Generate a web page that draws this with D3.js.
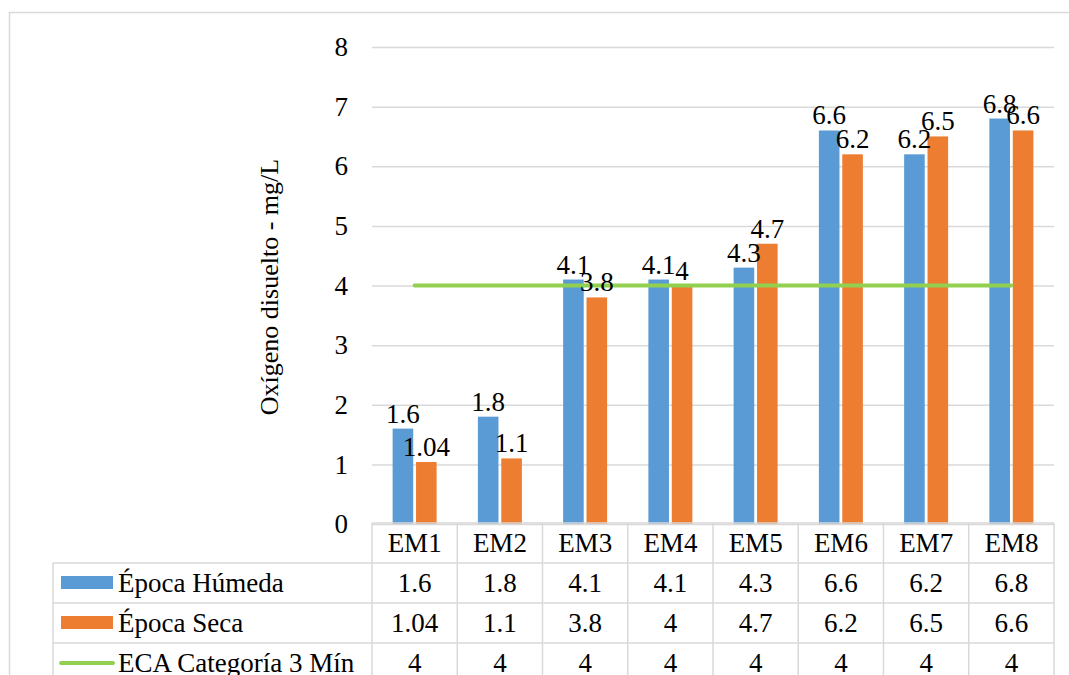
<!DOCTYPE html>
<meta charset="utf-8">
<script src="https://d3js.org/d3.v7.min.js"></script>
<style>
  body { margin: 0; background: #fff; }
  text { font-family: "Liberation Serif", "Times New Roman", serif; fill: #000; }
</style>
<div id="my_dataviz"></div>
<script>
// data
var categories = ["EM1", "EM2", "EM3", "EM4", "EM5", "EM6", "EM7", "EM8"];
var humeda = [1.6, 1.8, 4.1, 4.1, 4.3, 6.6, 6.2, 6.8];
var seca = [1.04, 1.1, 3.8, 4, 4.7, 6.2, 6.5, 6.6];
var eca = [4, 4, 4, 4, 4, 4, 4, 4];
var seriesNames = ["Época Húmeda", "Época Seca", "ECA Categoría 3 Mín"];
var yTicks = [0, 1, 2, 3, 4, 5, 6, 7, 8];

var W = 1069, H = 675;
var plot = {left: 372, right: 1054, top: 47, bottom: 524};
var rowH = 40;
var colors = {humeda: "#5B9BD5", seca: "#ED7D31", eca: "#92D050"};
var gridColor = "#d9d9d9";
var fontSize = "27px";

var svg = d3.select("#my_dataviz")
  .append("svg")
    .attr("width", W)
    .attr("height", H);

// outer chart border
svg.append("rect")
  .attr("x", 9.5).attr("y", 12.5)
  .attr("width", 1070).attr("height", 700)
  .attr("fill", "none")
  .attr("stroke", gridColor)
  .attr("stroke-width", 1.5);

// scales
var x = d3.scaleBand()
  .domain(categories)
  .range([plot.left, plot.right]);

var x1 = d3.scaleBand()
  .domain([0, 1])
  .range([0, 44])
  .paddingInner(0.12);

var y = d3.scaleLinear()
  .domain([0, 8])
  .range([plot.bottom, plot.top]);

// gridlines + y tick labels
var yAxis = svg.append("g")
  .attr("transform", "translate(" + plot.left + ",0)")
  .call(d3.axisLeft(y).tickValues(yTicks).tickSize(-(plot.right - plot.left)).tickPadding(24).tickFormat(d3.format("d")));
yAxis.select(".domain").remove();
yAxis.selectAll(".tick line").attr("stroke", gridColor).attr("stroke-width", 1.5);
yAxis.selectAll(".tick text")
  .style("font-family", "Liberation Serif, serif")
  .style("font-size", fontSize)
  .attr("fill", "#000");

// y axis title
svg.append("text")
  .attr("transform", "translate(278,287) rotate(-90)")
  .attr("text-anchor", "middle")
  .style("font-size", "26px")
  .text("Oxígeno disuelto - mg/L");

// bars
var groups = [humeda, seca];
var groupColors = [colors.humeda, colors.seca];
var off = (x.bandwidth() - 44) / 2;

groups.forEach(function(vals, s) {
  svg.append("g").selectAll("rect")
    .data(vals)
    .enter()
    .append("rect")
      .attr("x", function(d, i) { return x(categories[i]) + off + x1(s); })
      .attr("y", function(d) { return y(d); })
      .attr("width", x1.bandwidth())
      .attr("height", function(d) { return y(0) - y(d); })
      .attr("fill", groupColors[s]);
});

// ECA line
var line = d3.line()
  .x(function(d, i) { return x(categories[i]) + x.bandwidth() / 2; })
  .y(function(d) { return y(d); });
svg.append("path")
  .datum(eca)
  .attr("d", line)
  .attr("fill", "none")
  .attr("stroke", colors.eca)
  .attr("stroke-width", 4)
  .attr("stroke-linecap", "round");

// data labels
groups.forEach(function(vals, s) {
  svg.append("g").selectAll("text")
    .data(vals)
    .enter()
    .append("text")
      .attr("x", function(d, i) { return x(categories[i]) + off + x1(s) + x1.bandwidth() / 2; })
      .attr("y", function(d) { return y(d) - 6; })
      .attr("text-anchor", "middle")
      .style("font-size", fontSize)
      .text(function(d) { return d; });
});

// data table
var table = svg.append("g");
var tTop = 523;
var legendLeft = 53;
var rows = [humeda, seca, eca];

// horizontal lines
table.append("line")
  .attr("x1", plot.left).attr("x2", plot.right)
  .attr("y1", tTop).attr("y2", tTop);
for (var r = 1; r <= 4; r++) {
  table.append("line")
    .attr("x1", legendLeft).attr("x2", plot.right)
    .attr("y1", tTop + r * rowH).attr("y2", tTop + r * rowH);
}
// vertical lines
table.append("line")
  .attr("x1", legendLeft).attr("x2", legendLeft)
  .attr("y1", tTop + rowH).attr("y2", H + 10);
categories.concat(["end"]).forEach(function(c, i) {
  var xx = i < categories.length ? x(c) : plot.right;
  table.append("line")
    .attr("x1", xx).attr("x2", xx)
    .attr("y1", tTop).attr("y2", H + 10);
});
table.selectAll("line")
  .attr("stroke", gridColor)
  .attr("stroke-width", 1.5);

// header
table.selectAll("text.cat")
  .data(categories)
  .enter()
  .append("text")
    .attr("class", "cat")
    .attr("x", function(d) { return x(d) + x.bandwidth() / 2; })
    .attr("y", tTop + rowH / 2)
    .attr("dy", "0.33em")
    .attr("text-anchor", "middle")
    .style("font-size", fontSize)
    .text(function(d) { return d; });

// value rows
rows.forEach(function(vals, r) {
  var cy = tTop + (r + 1) * rowH + rowH / 2;
  table.append("g").selectAll("text")
    .data(vals)
    .enter()
    .append("text")
      .attr("x", function(d, i) { return x(categories[i]) + x.bandwidth() / 2; })
      .attr("y", cy)
      .attr("dy", "0.33em")
      .attr("text-anchor", "middle")
      .style("font-size", fontSize)
      .text(function(d) { return d; });

  // legend key
  if (r < 2) {
    table.append("rect")
      .attr("x", 61).attr("y", cy - 7)
      .attr("width", 52).attr("height", 13)
      .attr("fill", groupColors[r]);
  } else {
    table.append("line")
      .attr("x1", 61).attr("x2", 113)
      .attr("y1", cy).attr("y2", cy)
      .attr("stroke", colors.eca)
      .attr("stroke-width", 4)
      .attr("stroke-linecap", "round");
  }
  table.append("text")
    .attr("x", 118)
    .attr("y", cy)
    .attr("dy", "0.33em")
    .style("font-size", fontSize)
    .text(seriesNames[r]);
});
</script>
